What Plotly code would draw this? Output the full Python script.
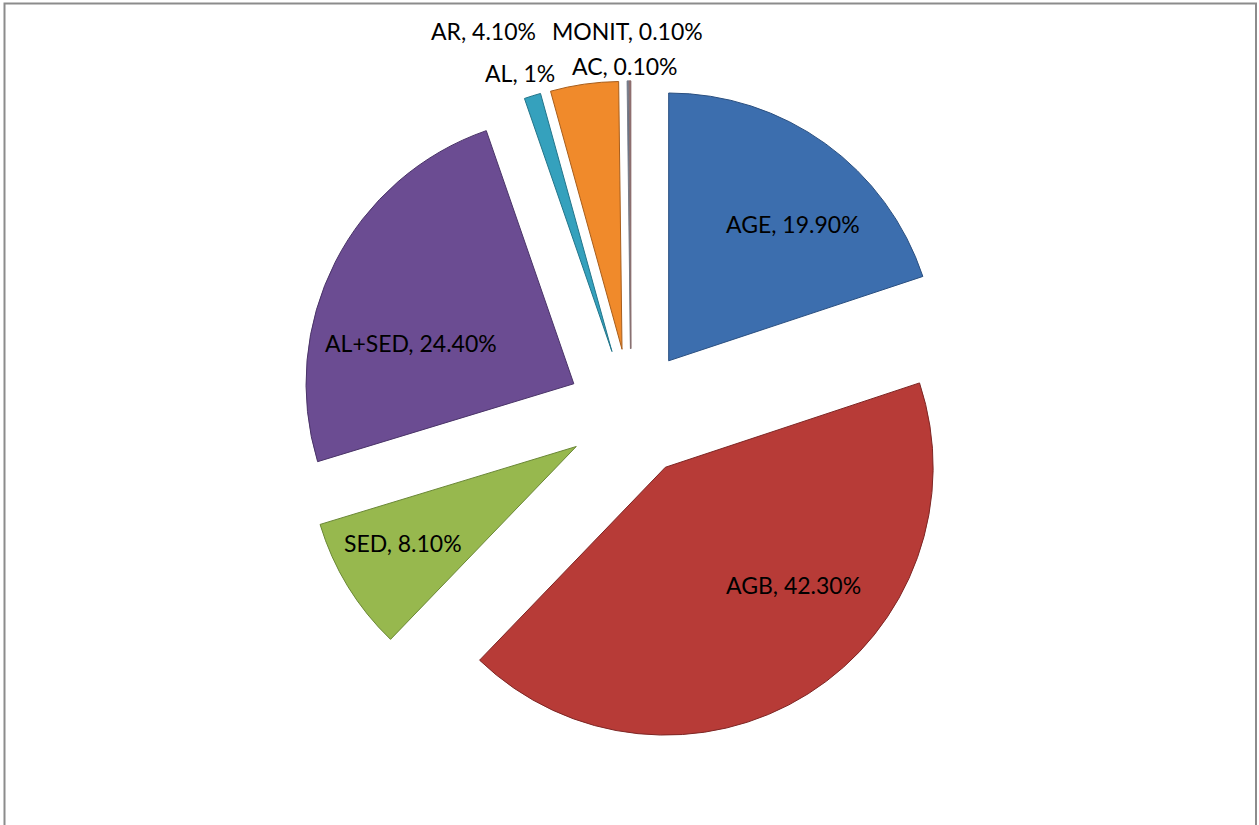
import plotly.graph_objects as go

# ---- data ----
categories = ["AGE", "AGB", "SED", "AL+SED", "AL", "AR", "AC", "MONIT"]
values = [19.9, 42.3, 8.1, 24.4, 1.0, 4.1, 0.1, 0.1]
value_texts = ["19.90", "42.30", "8.10", "24.40", "1", "4.10", "0.10", "0.10"]

# ---- styles / layout ----
colors = ["#3c6eae", "#b73b37", "#97b84e", "#6b4c92", "#35a1bd", "#f08a2b", "#5a6a85", "#8a5a5a"]
line_colors = ["#2a4f80", "#7e2624", "#6a8736", "#4a3468", "#23758a", "#a85e1c", "#7a7f8a", "#8a7070"]
# label centre positions in pixels (x from left, y from top)
label_px = [(793, 224), (794, 585), (403, 543), (411, 343),
            (520, 73), (483, 31), (625, 66), (627, 31)]

W, H = 1259, 825

fig = go.Figure(go.Pie(
    labels=categories,
    values=values,
    sort=False,
    direction="clockwise",
    rotation=0,
    pull=[0.24] * len(values),
    textinfo="none",
    marker=dict(colors=colors, line=dict(color=line_colors, width=1)),
    domain=dict(x=[0.2375, 0.765], y=[0.097, 0.902]),
    showlegend=False,
    hoverinfo="label+value",
))

annotations = []
for cat, vt, (px, py) in zip(categories, value_texts, label_px):
    annotations.append(dict(
        text=f"{cat}, {vt}%", xref="paper", yref="paper",
        x=px / W, y=1 - py / H, xanchor="center", yanchor="middle",
        showarrow=False,
        font=dict(family="Lato, Carlito, sans-serif", size=23, color="black"),
    ))

fig.update_layout(
    width=W, height=H,
    margin=dict(l=0, r=0, t=0, b=0, autoexpand=False),
    paper_bgcolor="white",
    plot_bgcolor="white",
    annotations=annotations,
    shapes=[dict(type="rect", xref="paper", yref="paper",
                 x0=4.5 / W, x1=1256 / W, y0=-0.05, y1=1 - 3.5 / H,
                 line=dict(color="#8c8c8c", width=2), fillcolor="rgba(0,0,0,0)",
                 layer="below")],
)

fig.write_html("out.html")
